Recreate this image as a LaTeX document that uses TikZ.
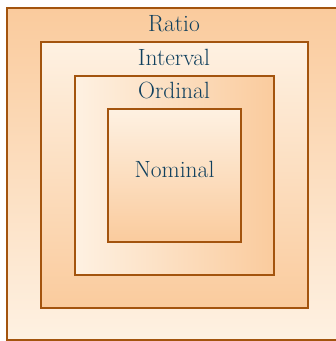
\documentclass[tikz,border=0pt]{standalone}
\usepackage{xcolor}
\definecolor{dorange}{RGB}{250,203,157}
\definecolor{lorange}{RGB}{254,241,226}
\definecolor{bbrown}{RGB}{163,84,14}
\definecolor{tblue}{RGB}{16,64,94}
\begin{document}
\begin{tikzpicture}[x=1pt,y=1pt,
  boxline/.style={draw=bbrown,line width=2.2pt},
  lbl/.style={text=tblue,font=\fontsize{23.5}{26}\selectfont,anchor=base,inner sep=0pt}]
\useasboundingbox (0,0) rectangle (336,341);
\path[boxline,top color=dorange,bottom color=lorange] (7,1) rectangle (342,332.7);
\path[boxline,top color=lorange,bottom color=dorange] (41,32.7) rectangle (308,299);
\path[boxline,left color=lorange,right color=dorange] (75,66) rectangle (274.3,265);
\path[boxline,top color=lorange,bottom color=dorange] (108,99) rectangle (241,232);
\node[lbl] (ratio) at (174,309) {Ratio};
\node[lbl] (interval) at (174,275) {Interval};
\node[lbl] (ordinal) at (174,242) {Ordinal};
\node[lbl] (nominal) at (174.5,163) {Nominal};
\end{tikzpicture}
\end{document}
